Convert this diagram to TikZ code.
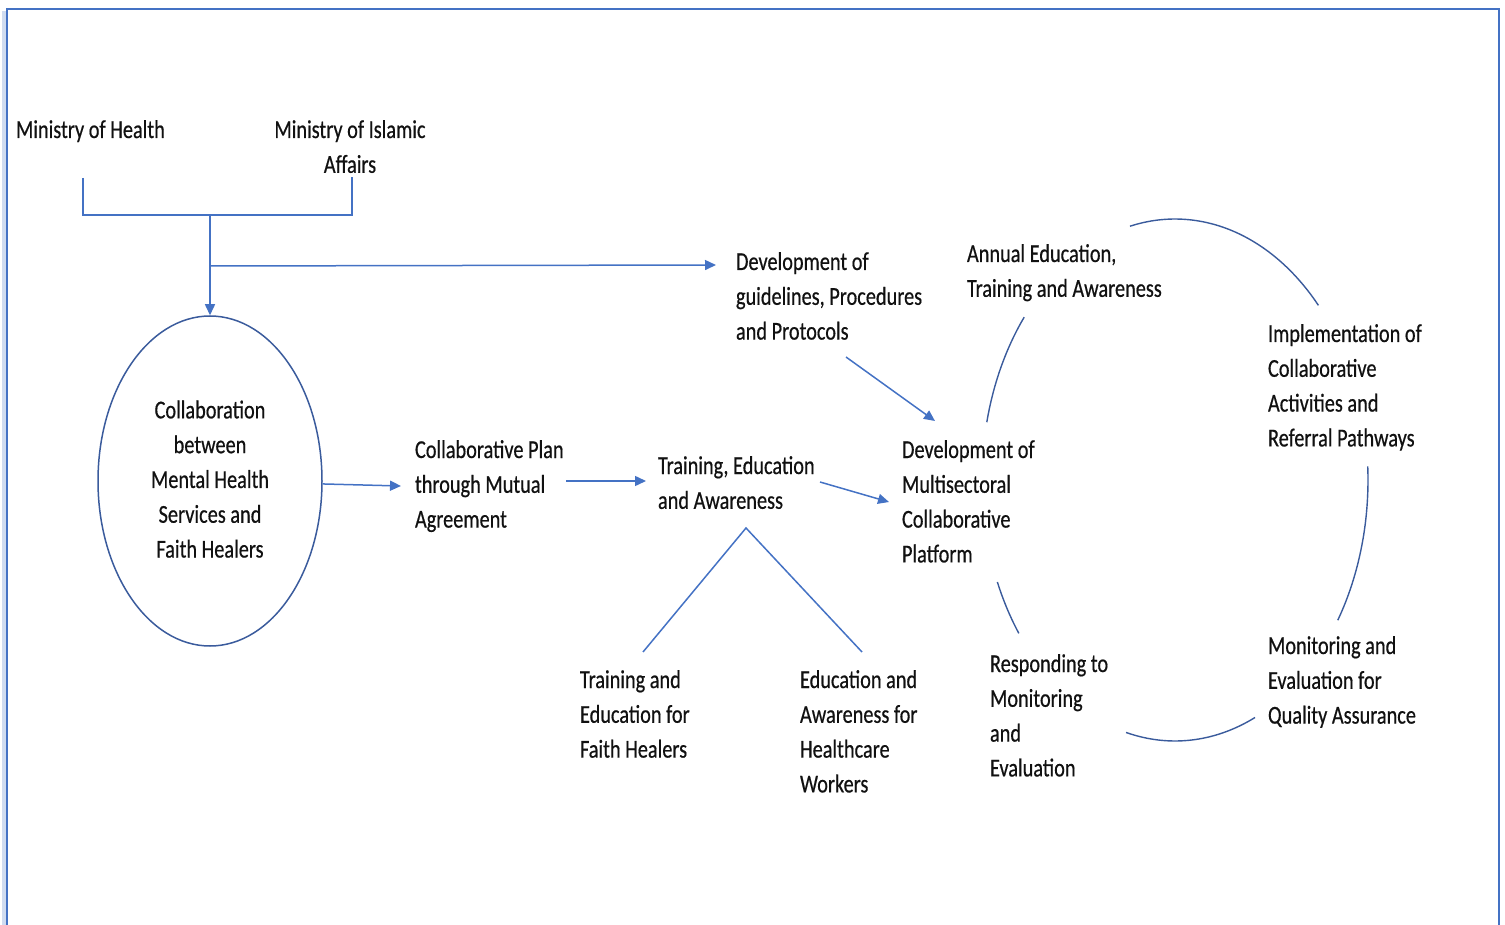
\documentclass[tikz,border=0pt]{standalone}
\usepackage{fontspec}
\setmainfont{Carlito}[FakeBold=0.6]
\usepackage{graphicx}
\usetikzlibrary{arrows.meta,shapes.geometric}
\definecolor{ln}{HTML}{4472C4}
\definecolor{arcc}{HTML}{3A5B9C}
\definecolor{txtc}{HTML}{111111}
\newcommand{\ML}[2][l]{\scalebox{1}[1.27]{\fontsize{10.15}{13.7}\selectfont\begin{tabular}[t]{@{}#1@{}}#2\end{tabular}}}
\tikzset{
  txt/.style={inner sep=0pt, outer sep=0pt, text=txtc},
  conn/.style={draw=ln, line width=0.75pt},
  arr/.style={conn, -{Triangle[length=5.5pt,width=5pt]}},
  arcl/.style={draw=arcc, line width=0.7pt},
}
\begin{document}
\begin{tikzpicture}[x=0.5pt, y=-0.5pt]
\useasboundingbox (0,0) rectangle (1505,925);
% frame
\draw[ln!25, line width=2pt] (4,935) -- (4,11);
\draw[ln, line width=1pt] (7,935) -- (7,9) -- (1499,9) -- (1499,935);

% text nodes
\node[txt, anchor=base west] (moh) at (16,138) {\ML{Ministry of Health}};
\node[txt, anchor=base] (mia) at (350,138) {\ML[c]{Ministry of Islamic\\Affairs}};
\node[ellipse, draw=arcc, line width=0.75pt, minimum width=112pt, minimum height=165pt, inner sep=0pt, text=txtc] (ell) at (210,481)
  {\ML[c]{Collaboration\\between\\Mental Health\\Services and\\Faith Healers}};
\node[txt, anchor=base west] (plan) at (415,458) {\ML{Collaborative Plan\\through Mutual\\Agreement}};
\node[txt, anchor=base west] (tea) at (658,474) {\ML{Training, Education\\and Awareness}};
\node[txt, anchor=base west] (plat) at (902,458) {\ML{Development of\\Multisectoral\\Collaborative\\Platform}};
\node[txt, anchor=base west] (guide) at (736,270) {\ML{Development of\\guidelines, Procedures\\and Protocols}};
\node[txt, anchor=base west] (annual) at (967,262) {\ML{Annual Education,\\Training and Awareness}};
\node[txt, anchor=base west] (impl) at (1268,342) {\ML{Implementation of\\Collaborative\\Activities and\\Referral Pathways}};
\node[txt, anchor=base west] (mon) at (1268,654) {\ML{Monitoring and\\Evaluation for\\Quality Assurance}};
\node[txt, anchor=base west] (resp) at (990,672) {\ML{Responding to\\Monitoring\\and\\Evaluation}};
\node[txt, anchor=base west] (tfh) at (580,688) {\ML{Training and\\Education for\\Faith Healers}};
\node[txt, anchor=base west] (eah) at (800,688) {\ML{Education and\\Awareness for\\Healthcare\\Workers}};

% connector end points
\coordinate (mohleg) at (83,178);
\coordinate (mialeg) at (352,177);
\coordinate (jn) at (210,215);
\coordinate (split) at (210,266);
\coordinate (guidein) at (716,265);
\coordinate (planin) at (401,486);
\coordinate (planout) at (566,481);
\coordinate (tein) at (646,481);
\coordinate (teout) at (820,482);
\coordinate (platin) at (889,502);
\coordinate (guideout) at (846,357);
\coordinate (platin2) at (935,421);
\coordinate (apex) at (746,528);
\coordinate (tfhtop) at (643,652);
\coordinate (eahtop) at (862,652);

% connectors
\draw[conn] (mohleg) |- (jn) -| (mialeg);
\draw[arr] (jn) -- (ell);
\draw[arr] (split) -- (guidein);
\draw[arr] (ell) -- (planin);
\draw[arr] (planout) -- (tein);
\draw[arr] (teout) -- (platin);
\draw[arr] (guideout) -- (platin2);
\draw[conn] (tfhtop) -- (apex) -- (eahtop);

% cycle arcs (ellipse centre 1175,480; radii 193,261)
\draw[arcl] plot[smooth, domain=192.8:218.6, samples=20] ({1175+193*cos(\x)},{480+261*sin(\x)});
\draw[arcl] plot[smooth, domain=256.5:318, samples=30] ({1175+193*cos(\x)},{480+261*sin(\x)});
\draw[arcl] plot[smooth, domain=-3:32.5, samples=20] ({1175+193*cos(\x)},{480+261*sin(\x)});
\draw[arcl] plot[smooth, domain=65.5:104.7, samples=20] ({1175+193*cos(\x)},{480+261*sin(\x)});
\draw[arcl] plot[smooth, domain=144:157, samples=10] ({1175+193*cos(\x)},{480+261*sin(\x)});
\end{tikzpicture}
\end{document}
